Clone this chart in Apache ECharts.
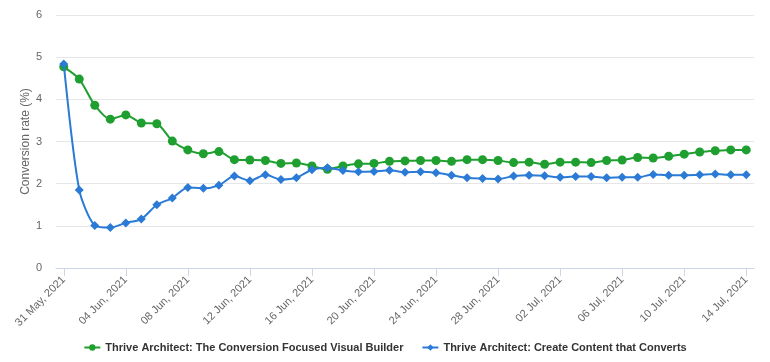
<!DOCTYPE html>
<html>
<head>
<meta charset="utf-8">
<script src="https://cdn.jsdelivr.net/npm/echarts@6/dist/echarts.min.js"></script>
<style>
html,body{margin:0;padding:0;background:#fff;}
#chart{width:770px;height:362px;}
</style>
</head>
<body>
<div id="chart"></div>
<script>
var categories = [
 "31 May, 2021","01 Jun, 2021","02 Jun, 2021","03 Jun, 2021","04 Jun, 2021","05 Jun, 2021","06 Jun, 2021","07 Jun, 2021",
 "08 Jun, 2021","09 Jun, 2021","10 Jun, 2021","11 Jun, 2021","12 Jun, 2021","13 Jun, 2021","14 Jun, 2021","15 Jun, 2021",
 "16 Jun, 2021","17 Jun, 2021","18 Jun, 2021","19 Jun, 2021","20 Jun, 2021","21 Jun, 2021","22 Jun, 2021","23 Jun, 2021",
 "24 Jun, 2021","25 Jun, 2021","26 Jun, 2021","27 Jun, 2021","28 Jun, 2021","29 Jun, 2021","30 Jun, 2021","01 Jul, 2021",
 "02 Jul, 2021","03 Jul, 2021","04 Jul, 2021","05 Jul, 2021","06 Jul, 2021","07 Jul, 2021","08 Jul, 2021","09 Jul, 2021",
 "10 Jul, 2021","11 Jul, 2021","12 Jul, 2021","13 Jul, 2021","14 Jul, 2021"
];
var seriesNames = [
 "Thrive Architect: The Conversion Focused Visual Builder",
 "Thrive Architect: Create Content that Converts"
];
var visualBuilder = [
 4.77,4.48,3.86,3.53,3.63,3.44,3.42,3.01,2.80,2.71,2.76,2.57,2.56,2.55,2.48,2.49,
 2.42,2.34,2.42,2.47,2.48,2.53,2.54,2.55,2.55,2.53,2.57,2.57,2.55,2.50,2.51,2.46,
 2.51,2.51,2.50,2.55,2.56,2.62,2.61,2.65,2.70,2.75,2.78,2.80,2.80
];
var createContent = [
 4.84,1.85,1.01,0.96,1.07,1.16,1.50,1.66,1.91,1.89,1.96,2.18,2.07,2.21,2.10,2.14,
 2.33,2.38,2.31,2.28,2.29,2.32,2.27,2.28,2.26,2.20,2.14,2.12,2.11,2.18,2.20,2.19,
 2.15,2.17,2.17,2.14,2.15,2.15,2.22,2.20,2.20,2.21,2.23,2.21,2.21
];
var yTicks = [0,1,2,3,4,5,6];

var chart = echarts.init(document.getElementById('chart'), null, {renderer:'canvas'});
var font = '"Liberation Sans", Arial, sans-serif';
chart.setOption({
  animation: false,
  backgroundColor: '#ffffff',
  grid: {left: 56, right: 16, top: 15, bottom: 94, containLabel: false},
  legend: {
    bottom: 4, left: 'center', itemGap: 18, itemWidth: 16, itemHeight: 8,
    textStyle: {color: '#333333', fontSize: 11, fontWeight: 'bold', fontFamily: font},
    data: seriesNames
  },
  xAxis: {
    type: 'category', data: categories, boundaryGap: true,
    axisLine: {lineStyle: {color: '#ccd6eb', width: 1}},
    axisTick: {show: true, alignWithLabel: true, interval: 3, length: 8, lineStyle: {color: '#ccd6eb'}},
    axisLabel: {interval: 3, rotate: 45, color: '#666666', fontSize: 11, fontFamily: font, margin: 10},
    splitLine: {show: false}
  },
  yAxis: {
    type: 'value', min: yTicks[0], max: yTicks[yTicks.length-1], interval: 1,
    name: 'Conversion rate (%)', nameLocation: 'middle', nameGap: 24, nameMoveOverlap: false,
    nameTextStyle: {color: '#666666', fontSize: 12, fontFamily: font},
    axisLine: {show: false}, axisTick: {show: false},
    axisLabel: {color: '#666666', fontSize: 11, fontFamily: font, margin: 14},
    splitLine: {lineStyle: {color: '#e6e6e6', width: 1}}
  },
  series: [
    {
      name: seriesNames[0], type: 'line', data: visualBuilder, smooth: 0.25,
      symbol: 'circle', symbolSize: 9,
      lineStyle: {color: '#1f9f2f', width: 2},
      itemStyle: {color: '#1f9f2f'}, z: 2
    },
    {
      name: seriesNames[1], type: 'line', data: createContent, smooth: 0.25,
      symbol: 'diamond', symbolSize: 9,
      lineStyle: {color: '#2b7bd6', width: 2},
      itemStyle: {color: '#2b7bd6'}, z: 3
    }
  ]
});
</script>
</body>
</html>
